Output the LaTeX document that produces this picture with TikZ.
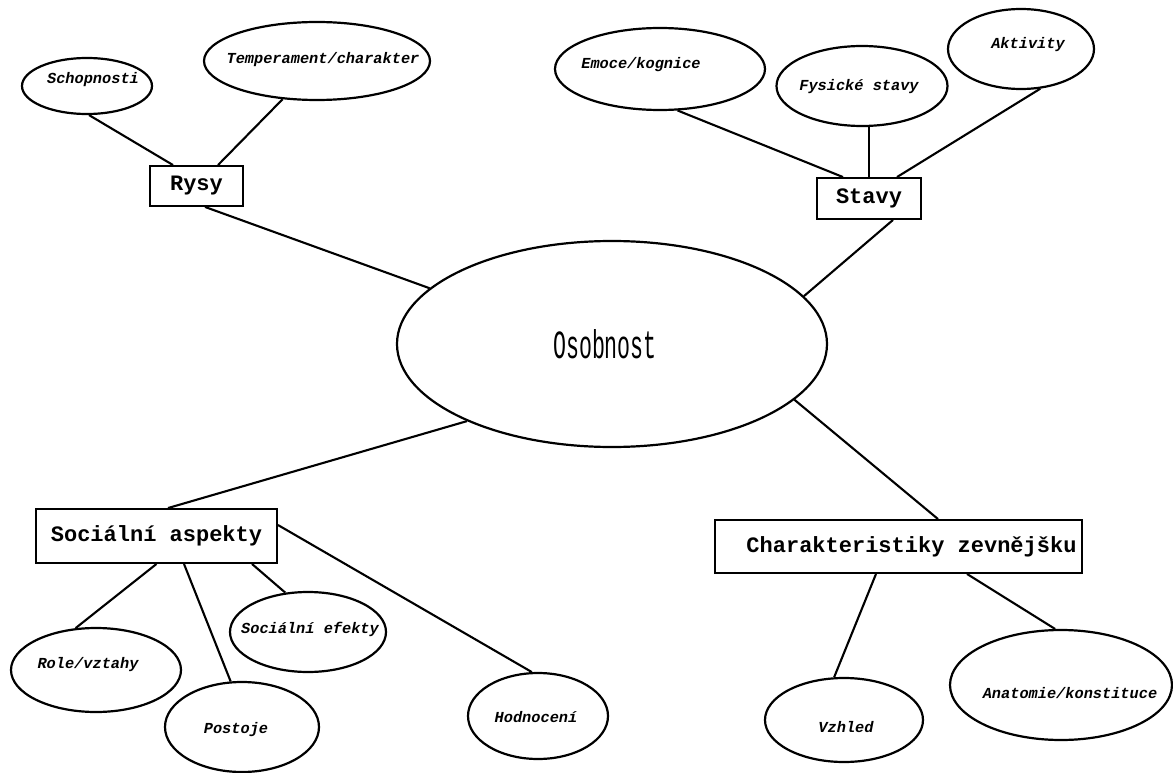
\documentclass[tikz,border=0pt]{standalone}
\usepackage{fontspec}
\usepackage{graphicx}
\usetikzlibrary{shapes.geometric}
\newfontfamily\labfont{Liberation Mono}
\newfontfamily\boxfont{Liberation Mono}
\begin{document}
\begin{tikzpicture}[x=1pt,y=-1pt,
  conn/.style={line width=2.1pt},
  oval/.style={draw, ellipse, line width=2.2pt, inner sep=0pt},
  catbox/.style={draw, rectangle, line width=1.9pt, inner sep=0pt},
  lab/.style={font=\labfont\bfseries\itshape\fontsize{15.3}{16}\selectfont, inner sep=0pt},
  boxtext/.style={font=\boxfont\bfseries\fontsize{22}{24}\selectfont}
]
\useasboundingbox (0,0) rectangle (1173,773);
\fill[white] (0,0) rectangle (1173,773);

% centre
\node[oval, minimum width=430pt, minimum height=206pt] (O) at (612,344)
  {\scalebox{0.54}[1]{\labfont\fontsize{40}{40}\selectfont Osobnost}\hspace*{14pt}};

% Rysy
\node[catbox, boxtext, minimum width=93pt, minimum height=40pt] (rysy) at (196.5,186) {Rysy};
\node[oval, minimum width=130pt, minimum height=56pt] (schop) at (87,86) {};
\node[lab] (schopt) at (93,80) {Schopnosti};
\node[oval, minimum width=226pt, minimum height=78pt] (temp) at (317,61) {};
\node[lab] (tempt) at (323,60) {Temperament/charakter};

% Stavy
\node[catbox, boxtext, minimum width=104pt, minimum height=41pt] (stavy) at (869,198.5) {Stavy};
\node[oval, minimum width=210pt, minimum height=82pt] (emoce) at (660,69) {};
\node[lab] (emocet) at (641,65) {Emoce/kognice};
\node[oval, minimum width=171pt, minimum height=80pt] (fys) at (862,86) {};
\node[lab] (fyst) at (859,87) {Fysické stavy};
\node[oval, minimum width=146pt, minimum height=80pt] (akt) at (1021,49) {};
\node[lab] (aktt) at (1028,45) {Aktivity};

% Socialni aspekty
\node[catbox, boxtext, minimum width=241pt, minimum height=54pt] (soc) at (156.5,536) {Sociální aspekty};
\node[oval, minimum width=170pt, minimum height=84pt] (role) at (96,670) {};
\node[lab] (rolet) at (88,665) {Role/vztahy};
\node[oval, minimum width=154pt, minimum height=90pt] (post) at (242,727) {};
\node[lab] (postt) at (236,730) {Postoje};
\node[oval, minimum width=156pt, minimum height=80pt] (eff) at (308,632) {};
\node[lab] (efft) at (310,629) {Sociální efekty};
\node[oval, minimum width=140pt, minimum height=86pt] (hodn) at (538,716) {};
\node[lab] (hodnt) at (536,717) {Hodnocení};

% Charakteristiky zevnejsku
\node[catbox, boxtext, minimum width=367pt, minimum height=53pt] (char) at (898.5,546.5)
  {\hspace*{26pt}Charakteristiky zevnějšku};
\node[oval, minimum width=158pt, minimum height=84pt] (vz) at (844,720) {};
\node[lab] (vzt) at (846,727) {Vzhled};
\node[oval, minimum width=222pt, minimum height=110pt] (anat) at (1061,685) {};
\node[lab] (anatt) at (1070,693) {Anatomie/konstituce};

% connectors
\draw[conn] (schop.-86) -- ([xshift=-23.5pt]rysy.north);
\draw[conn] (temp.-132) -- ([xshift=21.5pt]rysy.north);
\draw[conn] ([xshift=8.5pt]rysy.south) -- (O.163);

\draw[conn] (emoce.-67) -- ([xshift=-26pt]stavy.north);
\draw[conn] (stavy.north) -- (stavy.north |- fys.south);
\draw[conn] (akt.-64) -- ([xshift=28pt]stavy.north);
\draw[conn] ([xshift=24pt]stavy.south) -- (O.14);

\draw[conn] (O.208) -- ([xshift=11.5pt]soc.north);
\draw[conn] (soc.south) -- (role.116);
\draw[conn] ([xshift=27.5pt]soc.south) -- (post.104);
\draw[conn] ([xshift=95.5pt]soc.south) -- (eff.120);
\draw[conn] ([yshift=11pt]soc.east) -- (hodn.98);

\draw[conn] (O.-17) -- ([xshift=39.5pt]char.north);
\draw[conn] ([xshift=-22.5pt]char.south) -- (vz.103);
\draw[conn] ([xshift=68.5pt]char.south) -- (anat.96);
\end{tikzpicture}
\end{document}
